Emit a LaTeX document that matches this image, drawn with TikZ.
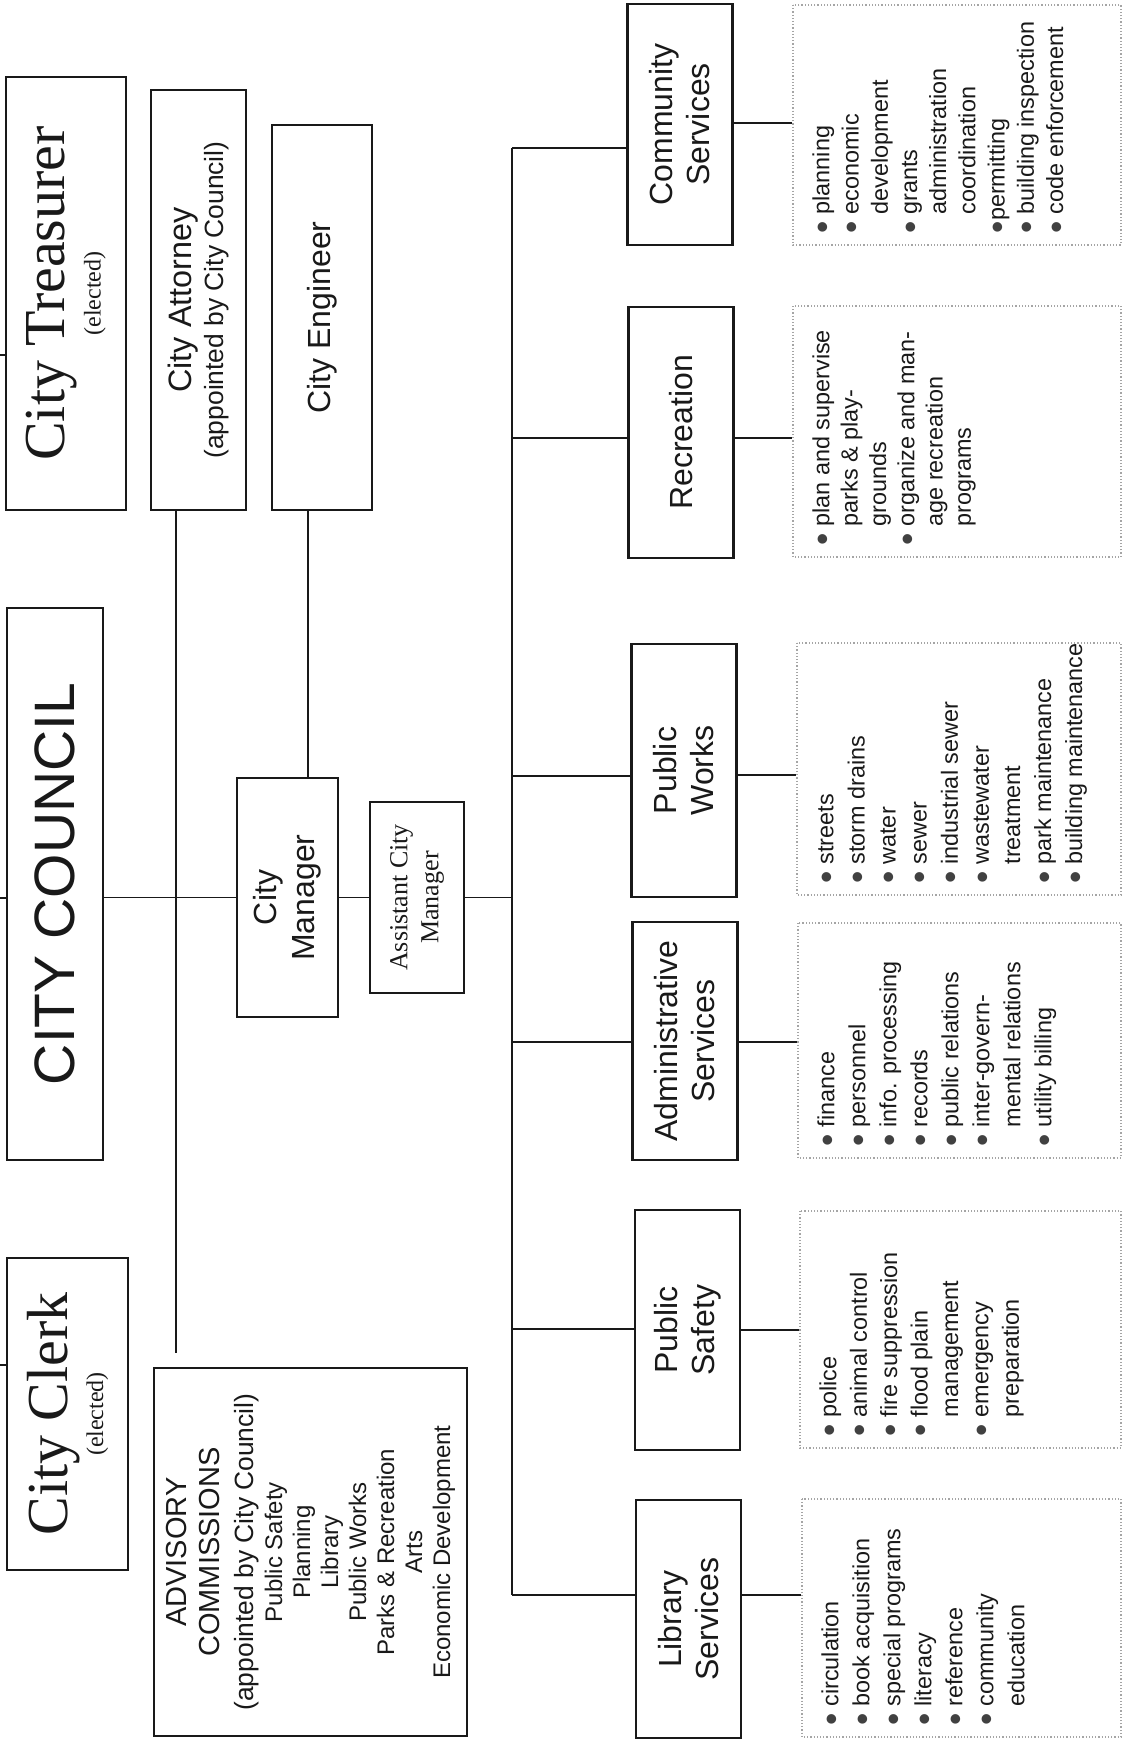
\documentclass[tikz,border=0pt]{standalone}
\usepackage{fontspec}
\setmainfont{Liberation Serif}
\setsansfont{Liberation Sans}
\usetikzlibrary{calc}
\definecolor{inkgray}{RGB}{25,25,25}
\definecolor{dotgray}{RGB}{65,65,65}
\definecolor{framegray}{RGB}{165,165,165}
\newcommand{\dotmark}{\raisebox{-0.22em}{\scalebox{1.5}{\textcolor{dotgray}{\textbullet}}}}
\newcommand{\bul}{\dotmark\ }
\newcommand{\ind}{\phantom{\dotmark\ }}
\tikzset{
  box/.style={draw=inkgray, line width=1.1pt, rotate=90, align=center, text=inkgray, inner sep=2pt},
  dept/.style={box, minimum height=52.5pt, font=\fontsize{16}{18.5}\selectfont\sffamily},
  duties/.style={draw=framegray, densely dotted, line width=0.6pt, rotate=90},
  duty/.style={rotate=90, anchor=base west, inner sep=0pt, text=inkgray, font=\fontsize{11.7}{14}\selectfont\sffamily},
  wire/.style={draw=inkgray, line width=0.9pt}
}
\begin{document}
\begin{tikzpicture}[x=0.5pt,y=-0.5pt]
\useasboundingbox (0,0) rectangle (1134,1739);
% elected offices and council
\node[box, minimum width=216.5pt, minimum height=60pt, font=\fontsize{12}{18}\selectfont\rmfamily] (treas) at (66,293.5) {{\fontsize{29}{30}\selectfont City Treasurer}\\(elected)};
\node[box, minimum width=276pt, minimum height=48pt, font=\fontsize{28.5}{30}\selectfont\sffamily] (council) at (55,884) {CITY COUNCIL};
\node[box, minimum width=156pt, minimum height=60.5pt, font=\fontsize{12}{18}\selectfont\rmfamily] (clerk) at (67.5,1414) {{\fontsize{29}{30}\selectfont City Clerk}\\(elected)};
% appointed staff
\node[box, minimum width=210pt, minimum height=47.5pt, font=\fontsize{13.2}{16}\selectfont\sffamily] (atty) at (198.5,300) {{\fontsize{16.2}{18}\selectfont City Attorney}\\(appointed by City Council)};
\node[box, minimum width=192.5pt, minimum height=50pt, font=\fontsize{16}{18}\selectfont\sffamily] (eng) at (322,317.5) {City Engineer};
\node[box, minimum width=119.5pt, minimum height=50.5pt, font=\fontsize{16}{19}\selectfont\sffamily] (mgr) at (287.5,897.5) {City\\Manager};
\node[box, minimum width=95.5pt, minimum height=47pt, font=\fontsize{13}{15.5}\selectfont\rmfamily] (asst) at (417,897.5) {Assistant City\\Manager};
\node[box, minimum width=184pt, minimum height=156.5pt, font=\fontsize{12}{14}\selectfont\sffamily] (adv) at (310.5,1552) {{\fontsize{14.5}{16}\selectfont ADVISORY}\\[2.5pt]{\fontsize{14.5}{16}\selectfont COMMISSIONS}\\[3pt]{\fontsize{13.2}{15}\selectfont (appointed by City Council)}\\[0.5pt]Public Safety\\Planning\\Library\\Public Works\\Parks \& Recreation\\Arts\\Economic Development};
% departments
\node[dept, minimum width=120.5pt] (comm) at (680,124.5) {Community\\Services};
\node[dept, minimum width=125.5pt] (rec) at (681,432.5) {Recreation};
\node[dept, minimum width=126.5pt] (pw) at (684,770.5) {Public\\Works};
\node[dept, minimum width=119pt] (adm) at (685,1041) {Administrative\\Services};
\node[dept, minimum width=120pt] (ps) at (687.5,1330) {Public\\Safety};
\node[dept, minimum width=119pt] (lib) at (688.5,1619) {Library\\Services};
% duty frames
\node[duties, minimum width=120pt, minimum height=164pt] (comm-l) at (957,125) {};
\node[duties, minimum width=125.5pt, minimum height=164pt] (rec-l) at (957,431.5) {};
\node[duties, minimum width=126pt, minimum height=162pt] (pw-l) at (959,769) {};
\node[duties, minimum width=117.5pt, minimum height=161.5pt] (adm-l) at (959.5,1040.5) {};
\node[duties, minimum width=118.5pt, minimum height=160.5pt] (ps-l) at (960.5,1329.5) {};
\node[duties, minimum width=119pt, minimum height=159.5pt] (lib-l) at (961.5,1618) {};
% wiring
\coordinate (e1) at (0,355);
\coordinate (e2) at (0,898);
\coordinate (e3) at (0,1365);
\coordinate (bus-top) at (512,148);
\coordinate (bus-bot) at (512,1595);
\draw[wire] (e1) -- (e1 -| treas.north);
\draw[wire] (e2) -- (e2 -| council.north);
\draw[wire] (e3) -- (e3 -| clerk.north);
\draw[wire, shorten >=7pt] (atty.west -| 176,0) -- (adv.east -| 176,0);
\draw[wire] (eng.west -| 308,0) -- (mgr.east -| 308,0);
\draw[wire] (council.south |- mgr) -- (mgr.north);
\draw[wire] (mgr.south) -- (asst.north);
\draw[wire] (asst.south) -- (asst.south -| bus-top);
\draw[wire, line width=1.2pt] (bus-top) -- (bus-bot);
\foreach \d/\ly/\ry in {comm/148/123,rec/438/438,pw/776/775,adm/1042/1042,ps/1329/1330,lib/1595/1595}{
  \draw[wire] (bus-top |- 0,\ly) -- (\d.north |- 0,\ly);
  \draw[wire] (\d.south |- 0,\ry) -- (\d-l.north |- 0,\ry);
}
% duty lists
\foreach \d/\lead/\items in {
comm/29.2/{\bul planning,\bul economic,\ind development,\bul grants,\ind administration,\ind coordination,{\dotmark permitting},\bul building inspection,\bul code enforcement},
rec/28.3/{\bul plan and supervise,\ind parks \& play-,\ind grounds,\bul organize and man-,\ind age recreation,\ind programs},
pw/31.1/{\bul streets,\bul storm drains,\bul water,\bul sewer,\bul industrial sewer,\bul wastewater,\ind treatment,\bul park maintenance,\bul building maintenance},
adm/31/{\bul finance,\bul personnel,\bul info. processing,\bul records,\bul public relations,\bul inter-govern-,\ind mental relations,\bul utility billing},
ps/30.4/{\bul police,\bul animal control,\bul fire suppression,\bul flood plain,\ind management,\bul emergency,\ind preparation},
lib/31/{\bul circulation,\bul book acquisition,\bul special programs,\bul literacy,\bul reference,\bul community,\ind education}}{
  \foreach \t [count=\i from 0] in \items
    \node[duty] (\d-\i) at ($(\d-l.north west)+(37+\i*\lead,-12)$) {\t};
}
\end{tikzpicture}
\end{document}
